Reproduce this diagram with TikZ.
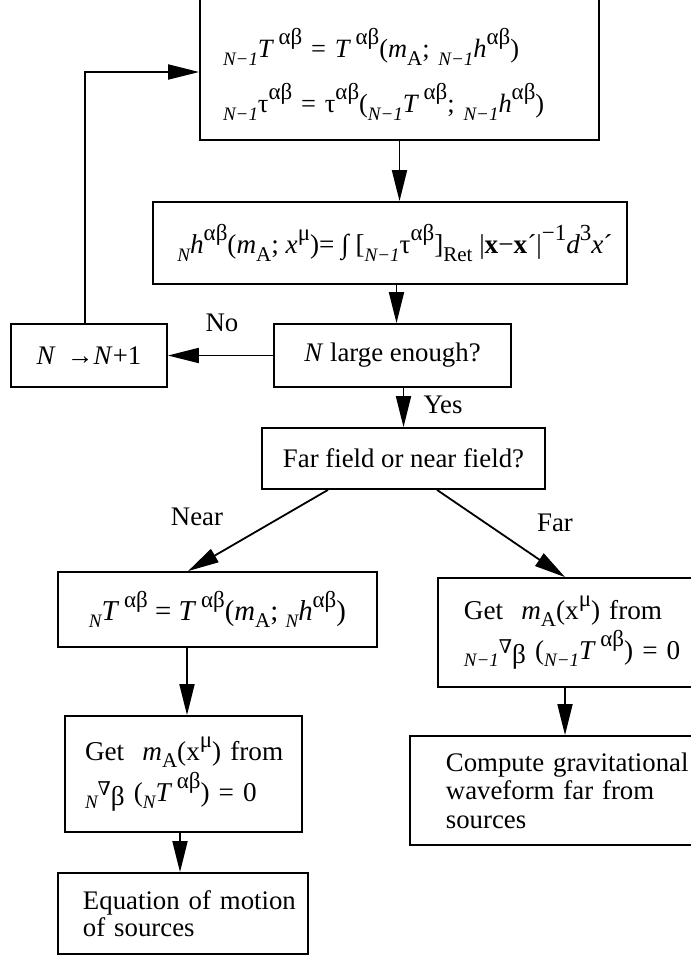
\documentclass[tikz,border=0pt]{standalone}
\usepackage{fontspec}
\setmainfont{Liberation Serif}
\newfontfamily\nablafont{DejaVu Serif}
\usetikzlibrary{arrows.meta}
\newcommand{\ftxt}{\fontsize{13.4}{14}\selectfont}
\newcommand{\fml}{\fontsize{13.6}{14}\selectfont}
\newcommand{\lsb}[1]{\raisebox{-3.8pt}{\fontsize{9.5}{10}\selectfont\itshape #1}}
\newcommand{\rsb}[1]{\raisebox{-3.8pt}{\fontsize{10.5}{10}\selectfont #1}}
\newcommand{\hsp}[1]{\raisebox{6.5pt}{\fontsize{11.5}{10}\selectfont #1}}
\newcommand{\ab}{\hsp{αβ}}
\newcommand{\nab}{\raisebox{3pt}{\fontsize{9.5}{10}\selectfont\nablafont ∇}}
\tikzset{
  box/.style={draw, line width=0.9pt, inner ysep=0pt, font=\ftxt},
  flow/.style={-{Triangle[length=15.5pt,width=7.5pt]}, line width=0.9pt},
  lbl/.style={font=\ftxt, inner sep=0pt},
}
\begin{document}
\begin{tikzpicture}[x=0.5pt, y=-0.5pt]
  \clip (0,0) rectangle (691,959);
  \fill[white] (0,0) rectangle (691,959);
  % iteration loop
  \node[box, minimum width=199.5pt, minimum height=75pt, inner xsep=11.5pt, text width=176.5pt, align=left,
        font={\fontsize{13.2}{27.5}\selectfont\lineskiplimit=-50pt}] (relax) at (399.5,65)
    {\mbox{\rule{0pt}{24pt}\lsb{N−1}\textit{T}\,\ab\ = \textit{T}\,\ab(\textit{m}\rsb{A}; \lsb{N−1}\textit{h}\ab)}\\
     \mbox{\lsb{N−1}τ\ab\ = τ\ab(\lsb{N−1}\textit{T}\,\ab; \lsb{N−1}\textit{h}\ab)}};
  \node[box, minimum width=237pt, minimum height=41pt, font=\fml] (field) at (390,243)
    {\hspace*{5pt}\lsb{N}\textit{h}\ab(\textit{m}\rsb{A}; \textit{x}\hsp{μ})= ∫ [\lsb{N−1}τ\ab]\rsb{Ret} |\textbf{x}−\textbf{x}´|\hsp{−1}\textit{d}\hsp{3}\textit{x}´};
  \node[box, minimum width=118.5pt, minimum height=31.5pt] (test) at (392.5,355.5) {\textit{N} large enough?};
  \node[box, minimum width=78pt, minimum height=31.5pt] (step) at (89,355.5) {\textit{N}\ \,→\textit{N}+1};
  \node[box, minimum width=141.5pt, minimum height=30.5pt] (choice) at (403.5,458.5) {Far field or near field?};
  % near zone
  \node[box, minimum width=159.5pt, minimum height=37.5pt, font={\fontsize{14.4}{14}\selectfont}] (nearbox) at (217.5,609.5)
    {\lsb{N}\textit{T}\,\ab\ = \textit{T}\,\ab(\textit{m}\rsb{A}; \lsb{N}\textit{h}\ab)};
  \node[box, minimum width=118.5pt, minimum height=58pt, inner xsep=10pt, text width=98.5pt, align=left,
        font={\fontsize{13.6}{20.5}\selectfont\lineskiplimit=-50pt}] (getnear) at (183.5,774)
    {\mbox{Get\ \ \textit{m}\rsb{A}(x\hsp{μ}) from}\\
     \mbox{\lsb{N}\nab\raisebox{-2pt}{β}\ (\lsb{N}\textit{T}\,\ab) = 0}};
  \node[box, minimum width=125pt, minimum height=40.5pt, inner xsep=12.5pt, text width=100pt, align=left,
        font={\fontsize{13.4}{13.5}\selectfont\lineskiplimit=-50pt}] (motion) at (183,913.5)
    {\mbox{Equation of motion}\\of sources};
  % far zone
  \node[box, anchor=west, minimum height=54.5pt, inner xsep=13pt, text width=140pt, align=left,
        font={\fontsize{13.6}{20}\selectfont\lineskiplimit=-50pt}] (farbox) at (437,632.5)
    {\mbox{Get\ \ \textit{m}\rsb{A}(x\hsp{μ}) from}\\
     \mbox{\lsb{N−1}\nab\raisebox{-2pt}{β}\ (\lsb{N−1}\textit{T}\,\ab) = 0}};
  \node[box, anchor=west, minimum height=54.5pt, inner xsep=18pt, text width=140pt, align=left,
        font={\fontsize{13.4}{14.2}\selectfont\lineskiplimit=-50pt}] (wave) at (409,790.5)
    {Compute gravitational\\waveform far from\\sources};
  % labels
  \node[lbl] (no) at (222,323) {No};
  \node[lbl] (yes) at (443,405) {Yes};
  \node[lbl] (near) at (197,517) {Near};
  \node[lbl] (far) at (555,523) {Far};
  % connectors
  \draw[flow] (relax.south) -- (relax.south |- field.north);
  \draw[flow] ([xshift=2pt]test.north |- field.south) -- ([xshift=2pt]test.north);
  \draw[flow] (test.west) -- (step.east);
  \draw[flow] ([xshift=-2pt]step.north) |- ([yshift=-3.5pt]relax.west);
  \draw[flow] (choice.north |- test.south) -- (choice.north);
  \draw[flow] ([xshift=-37.75pt]choice.south) -- ([xshift=-14.75pt]nearbox.north);
  \draw[flow] ([xshift=16.75pt]choice.south) -- ([xshift=64pt]farbox.north west);
  \draw[flow] ([xshift=1.75pt]getnear.north |- nearbox.south) -- ([xshift=1.75pt]getnear.north);
  \draw[flow] ([xshift=-1.5pt]motion.north |- getnear.south) -- ([xshift=-1.5pt]motion.north);
  \draw[flow] ([xshift=64pt]farbox.south west) -- ([xshift=64pt]farbox.south west |- wave.north);
\end{tikzpicture}
\end{document}
